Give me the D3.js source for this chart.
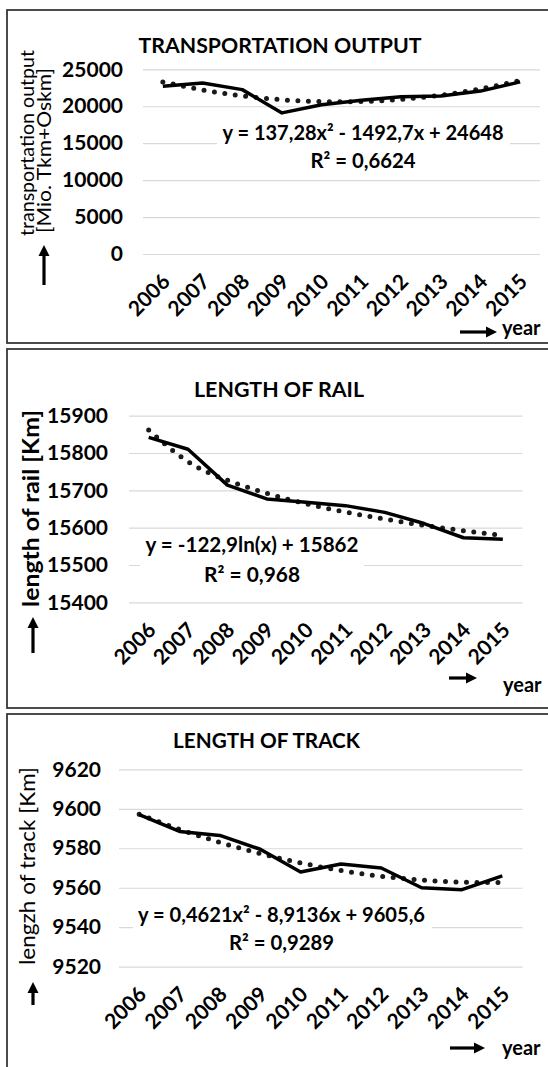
<!DOCTYPE html>
<html>
<head>
<meta charset="utf-8">
<script src="https://cdn.jsdelivr.net/npm/d3@7"></script>
<style>
  body { margin: 0; background: #fff; }
  svg { display: block; font-family: Lato, "Open Sans", "Liberation Sans", sans-serif; }
</style>
</head>
<body>
<div id="chart"></div>
<script>
// categories
const years = ["2006", "2007", "2008", "2009", "2010", "2011", "2012", "2013", "2014", "2015"];

// transportation output [Mio. Tkm+Oskm]
const outputValues = [22700, 23150, 22250, 19100, 20200, 20800, 21300, 21400, 22050, 23300];
const outputTrend = [23290, 22210, 21410, 20880, 20620, 20640, 20930, 21500, 22350, 23470];
const outputTicks = [0, 5000, 10000, 15000, 20000, 25000];

// length of rail [Km]
const railValues = [15842, 15810, 15714, 15677, 15668, 15659, 15641, 15611, 15573, 15569];
const railTrend = [15862, 15777, 15727, 15692, 15664, 15642, 15623, 15606, 15592, 15579];
const railTicks = [15400, 15500, 15600, 15700, 15800, 15900];

// length of track [Km]
const trackValues = [9597, 9588.5, 9586.5, 9579.5, 9568, 9572, 9570, 9560, 9559, 9566];
const trackTrend = [9597.2, 9589.6, 9583.0, 9577.3, 9572.6, 9568.7, 9565.8, 9563.9, 9562.8, 9562.7];
const trackTicks = [9520, 9540, 9560, 9580, 9600, 9620];

const W = 548, H = 1067;
const tickFont = "21px";

const svg = d3.select("#chart").append("svg")
    .attr("width", W)
    .attr("height", H);

const panels = [
    {
        frame: [7, 10, 560, 343],
        title: "TRANSPORTATION OUTPUT", titleX: 280, titleY: 53, titleW: 283,
        values: outputValues, trend: outputTrend, ticks: outputTicks,
        x0: 143, x1: 540, yTop: 69.3, yBottom: 254,
        labelRight: 123,
        yTitle: [
            { text: "transportation output", x: 34, y: 143, len: 186, bold: false, size: 19.5 },
            { text: "[Mio. Tkm+Oskm]", x: 50.5, y: 150.5, len: 165, bold: false, size: 19.5 }
        ],
        upArrow: { x: 44, y1: 285, y2: 245 },
        eq: { lines: ["y = 137,28x² - 1492,7x + 24648", "R² = 0,6624"], x: 363, y: [140, 168], len: [281, 105] },
        box: [217, 122, 293, 52],
        year: { ax1: 460, ax2: 497, ay: 332, tx: 502, ty: 335 }
    },
    {
        frame: [7, 349, 560, 708],
        title: "LENGTH OF RAIL", titleX: 279, titleY: 397, titleW: 170,
        values: railValues, trend: railTrend, ticks: railTicks,
        x0: 129, x1: 522.5, yTop: 415.7, yBottom: 602.3,
        labelRight: 108,
        yTitle: [
            { text: "length of rail  [Km]", x: 39, y: 508.5, len: 197, bold: true, size: 22 }
        ],
        upArrow: { x: 33, y1: 653, y2: 617 },
        eq: { lines: ["y = -122,9ln(x) + 15862", "R² = 0,968"], x: 252, y: [552, 582], len: [213, 96] },
        box: [140, 532, 224, 58],
        year: { ax1: 449, ax2: 477, ay: 678, tx: 503, ty: 692 }
    },
    {
        frame: [7, 714, 560, 1090],
        title: "LENGTH OF TRACK", titleX: 266.5, titleY: 748, titleW: 187,
        values: trackValues, trend: trackTrend, ticks: trackTicks,
        x0: 119, x1: 522.5, yTop: 769.3, yBottom: 966.7,
        labelRight: 101,
        yTitle: [
            { text: "lengzh of track [Km]", x: 35, y: 866, len: 198, bold: false, size: 21.5 }
        ],
        upArrow: { x: 33, y1: 1005, y2: 982 },
        eq: { lines: ["y = 0,4621x² - 8,9136x + 9605,6", "R² = 0,9289"], x: 281.5, y: [922, 950], len: [287, 105] },
        box: [133, 900, 299, 56],
        year: { ax1: 450, ax2: 485, ay: 1048, tx: 502, ty: 1055 }
    }
];

function drawPanel(p) {
    const g = svg.append("g");

    // frame
    g.append("rect")
        .attr("x", p.frame[0])
        .attr("y", p.frame[1])
        .attr("width", p.frame[2] - p.frame[0])
        .attr("height", p.frame[3] - p.frame[1])
        .attr("fill", "none")
        .attr("stroke", "#333")
        .attr("stroke-width", 1.75);

    const x = d3.scalePoint().domain(years).range([p.x0, p.x1]).padding(0.5);
    const y = d3.scaleLinear()
        .domain([p.ticks[0], p.ticks[p.ticks.length - 1]])
        .range([p.yBottom, p.yTop]);

    // grid + y tick labels
    const yAxis = g.append("g")
        .attr("transform", `translate(${p.x0},0)`)
        .call(d3.axisLeft(y)
            .tickValues(p.ticks)
            .tickSize(-(p.x1 - p.x0))
            .tickPadding(p.x0 - p.labelRight)
            .tickFormat(d3.format("d")));
    yAxis.select(".domain").remove();
    yAxis.selectAll("line").attr("stroke", "#d9d9d9").attr("stroke-width", 1.2);
    yAxis.selectAll("text")
        .attr("fill", "#000")
        .style("font-size", tickFont)
        .style("font-weight", "bold")
        .style("font-family", "Lato, 'Open Sans', sans-serif");

    // x labels, rotated
    const xAxis = g.append("g")
        .attr("transform", `translate(0,${p.yBottom})`)
        .call(d3.axisBottom(x).tickSize(0));
    xAxis.select(".domain").remove();
    xAxis.selectAll("text")
        .attr("x", 0).attr("y", 0).attr("dy", 0)
        .attr("transform", "translate(8,29) rotate(-45)")
        .attr("text-anchor", "end")
        .attr("fill", "#000")
        .style("font-size", tickFont)
        .style("font-weight", "bold")
        .style("font-family", "Lato, 'Open Sans', sans-serif");

    // title
    g.append("text")
        .attr("x", p.titleX)
        .attr("y", p.titleY)
        .attr("text-anchor", "middle")
        .attr("textLength", p.titleW)
        .attr("lengthAdjust", "spacingAndGlyphs")
        .style("font-size", "21px")
        .style("font-weight", "bold")
        .text(p.title);

    // trend line (dotted)
    const line = d3.line().x((d, i) => x(years[i])).y(d => y(d));
    g.append("path")
        .datum(p.trend)
        .attr("d", line.curve(d3.curveNatural))
        .attr("fill", "none")
        .attr("stroke", "#1a1a1a")
        .attr("stroke-width", 5)
        .attr("stroke-linecap", "round")
        .attr("stroke-dasharray", "0 10.5");

    // values (solid)
    g.append("path")
        .datum(p.values)
        .attr("d", d3.line().x((d, i) => x(years[i])).y(d => y(d)))
        .attr("fill", "none")
        .attr("stroke", "#000")
        .attr("stroke-width", 3.5)
        .attr("stroke-linejoin", "round");

    // equation label with white background
    g.append("rect")
        .attr("x", p.box[0]).attr("y", p.box[1])
        .attr("width", p.box[2]).attr("height", p.box[3])
        .attr("fill", "#fff");
    p.eq.lines.forEach((t, i) => {
        g.append("text")
            .attr("x", p.eq.x)
            .attr("y", p.eq.y[i])
            .attr("text-anchor", "middle")
            .attr("textLength", p.eq.len[i])
            .attr("lengthAdjust", "spacingAndGlyphs")
            .style("font-size", "21px")
            .style("font-weight", "bold")
            .text(t);
    });

    // y axis title
    p.yTitle.forEach(t => {
        g.append("text")
            .attr("transform", `translate(${t.x},${t.y}) rotate(-90)`)
            .attr("text-anchor", "middle")
            .attr("textLength", t.len)
            .attr("lengthAdjust", "spacingAndGlyphs")
            .style("font-size", t.size + "px")
            .style("font-weight", t.bold ? "bold" : "normal")
            .text(t.text);
    });

    // up arrow
    const ua = p.upArrow;
    g.append("line")
        .attr("x1", ua.x).attr("x2", ua.x)
        .attr("y1", ua.y1).attr("y2", ua.y2 + 10)
        .attr("stroke", "#000").attr("stroke-width", 3.2);
    g.append("path")
        .attr("d", `M${ua.x - 5.5},${ua.y2 + 11} L${ua.x},${ua.y2} L${ua.x + 5.5},${ua.y2 + 11} Z`)
        .attr("fill", "#000");

    // right arrow + "year"
    const ya = p.year;
    g.append("line")
        .attr("x1", ya.ax1).attr("x2", ya.ax2 - 10)
        .attr("y1", ya.ay).attr("y2", ya.ay)
        .attr("stroke", "#000").attr("stroke-width", 3.2);
    g.append("path")
        .attr("d", `M${ya.ax2 - 11},${ya.ay - 5.5} L${ya.ax2},${ya.ay} L${ya.ax2 - 11},${ya.ay + 5.5} Z`)
        .attr("fill", "#000");
    g.append("text")
        .attr("x", ya.tx)
        .attr("y", ya.ty)
        .style("font-size", "20px")
        .style("font-weight", "bold")
        .text("year");
}

panels.forEach(drawPanel);
</script>
</body>
</html>
